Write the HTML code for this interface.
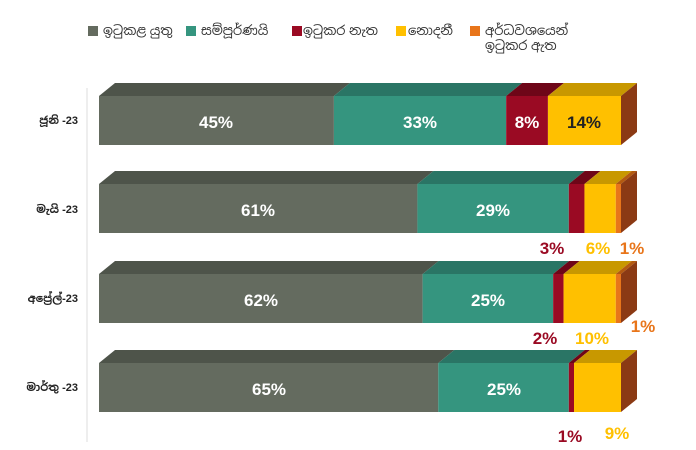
<!DOCTYPE html><html><head><meta charset="utf-8"><style>body{margin:0;background:#fff}svg{display:block;font-family:"Liberation Sans","Noto Sans Sinhala",sans-serif}</style></head><body>
<svg width="696" height="450" viewBox="0 0 696 450">
<g font-size="13" fill="#333">
<rect x="88" y="26" width="10" height="10" fill="#646b5f"/><text x="103" y="35">ඉටුකළ යුතු</text>
<rect x="186" y="26" width="10" height="10" fill="#35957f"/><text x="201" y="35">සම්පූර්ණයි</text>
<rect x="292" y="26" width="10" height="10" fill="#9a0a23"/><text x="303" y="35">ඉටුකර නැත</text>
<rect x="396" y="26" width="10" height="10" fill="#ffc000"/><text x="408" y="35">නොදනී</text>
<rect x="470" y="26" width="10" height="10" fill="#e8751a"/><text x="485" y="35">අර්ධවශයෙන්</text><text x="485" y="50">ඉටුකර ඇත</text>
</g>
<line x1="87" y1="88" x2="87" y2="442" stroke="#ddd"/>
<g font-size="11" font-weight="bold" fill="#222" text-anchor="end">
<text x="78" y="124">ජූනි -23</text><text x="78" y="213">මැයි -23</text><text x="78" y="302">අප්‍රේල්-23</text><text x="78" y="391">මාර්තු -23</text>
</g>
<!-- Row 1 y=96 -->
<polygon points="99,96 115,83 349.9,83 333.9,96" fill="#4e544a"/><rect x="99" y="96" width="234.9" height="49" fill="#646b5f"/>
<polygon points="333.9,96 349.9,83 522.16,83 506.16,96" fill="#2a7565"/><rect x="333.9" y="96" width="172.26" height="49" fill="#35957f"/>
<polygon points="506.16,96 522.16,83 563.92,83 547.92,96" fill="#6e0618"/><rect x="506.16" y="96" width="41.76" height="49" fill="#9a0a23"/>
<polygon points="547.92,96 563.92,83 637,83 621,96" fill="#c89800"/><rect x="547.92" y="96" width="73.08" height="49" fill="#ffc000"/>
<polygon points="621,96 637,83 637,132 621,145" fill="#8b3a14"/>
<!-- Row 2 y=184 -->
<polygon points="99,184 115,171 433.42,171 417.42,184" fill="#4e544a"/><rect x="99" y="184" width="318.42" height="49" fill="#646b5f"/>
<polygon points="417.42,184 433.42,171 584.8,171 568.8,184" fill="#2a7565"/><rect x="417.42" y="184" width="151.38" height="49" fill="#35957f"/>
<polygon points="568.8,184 584.8,171 600.46,171 584.46,184" fill="#6e0618"/><rect x="568.8" y="184" width="15.66" height="49" fill="#9a0a23"/>
<polygon points="584.46,184 600.46,171 631.78,171 615.78,184" fill="#c89800"/><rect x="584.46" y="184" width="31.32" height="49" fill="#ffc000"/>
<polygon points="615.78,184 631.78,171 637,171 621,184" fill="#b35a10"/><rect x="615.78" y="184" width="5.22" height="49" fill="#e8751a"/>
<polygon points="621,184 637,171 637,220 621,233" fill="#8b3a14"/>
<!-- Row 3 y=274 -->
<polygon points="99,274 115,261 438.64,261 422.64,274" fill="#4e544a"/><rect x="99" y="274" width="323.64" height="49" fill="#646b5f"/>
<polygon points="422.64,274 438.64,261 569.14,261 553.14,274" fill="#2a7565"/><rect x="422.64" y="274" width="130.5" height="49" fill="#35957f"/>
<polygon points="553.14,274 569.14,261 579.58,261 563.58,274" fill="#6e0618"/><rect x="553.14" y="274" width="10.44" height="49" fill="#9a0a23"/>
<polygon points="563.58,274 579.58,261 631.78,261 615.78,274" fill="#c89800"/><rect x="563.58" y="274" width="52.2" height="49" fill="#ffc000"/>
<polygon points="615.78,274 631.78,261 637,261 621,274" fill="#b35a10"/><rect x="615.78" y="274" width="5.22" height="49" fill="#e8751a"/>
<polygon points="621,274 637,261 637,310 621,323" fill="#8b3a14"/>
<!-- Row 4 y=363 -->
<polygon points="99,363 115,350 454.3,350 438.3,363" fill="#4e544a"/><rect x="99" y="363" width="339.3" height="49" fill="#646b5f"/>
<polygon points="438.3,363 454.3,350 584.8,350 568.8,363" fill="#2a7565"/><rect x="438.3" y="363" width="130.5" height="49" fill="#35957f"/>
<polygon points="568.8,363 584.8,350 590.02,350 574.02,363" fill="#6e0618"/><rect x="568.8" y="363" width="5.22" height="49" fill="#9a0a23"/>
<polygon points="574.02,363 590.02,350 637,350 621,363" fill="#c89800"/><rect x="574.02" y="363" width="46.98" height="49" fill="#ffc000"/>
<polygon points="621,363 637,350 637,399 621,412" fill="#8b3a14"/>
<g font-size="17" font-weight="bold" text-anchor="middle">
<text x="216" y="128" fill="#fff">45%</text><text x="420" y="128" fill="#fff">33%</text><text x="527" y="128" fill="#fff">8%</text><text x="584" y="128" fill="#222">14%</text>
<text x="258" y="216" fill="#fff">61%</text><text x="493" y="216" fill="#fff">29%</text>
<text x="261" y="306" fill="#fff">62%</text><text x="488" y="306" fill="#fff">25%</text>
<text x="269" y="395" fill="#fff">65%</text><text x="504" y="395" fill="#fff">25%</text>
<text x="552" y="254" fill="#9a0a23">3%</text><text x="598" y="254" fill="#ffc000">6%</text><text x="632" y="254" fill="#e8751a">1%</text>
<text x="545" y="344" fill="#9a0a23">2%</text><text x="592" y="344" fill="#ffc000">10%</text><text x="643" y="332" fill="#e8751a">1%</text>
<text x="570" y="442" fill="#9a0a23">1%</text><text x="617" y="439" fill="#ffc000">9%</text>
</g>
</svg></body></html>
